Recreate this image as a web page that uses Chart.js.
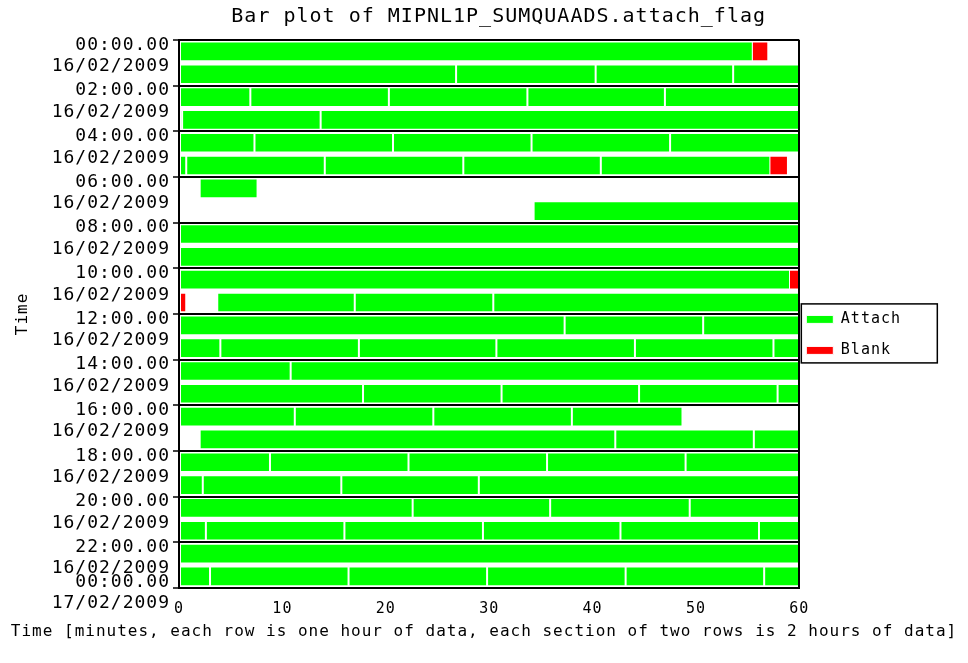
<!DOCTYPE html>
<html>
<head>
<meta charset="utf-8">
<title>Bar plot of MIPNL1P_SUMQUAADS.attach_flag</title>
<script src="https://cdn.jsdelivr.net/npm/chart.js@4.4.1/dist/chart.umd.min.js"></script>
<style>
  html, body { margin: 0; padding: 0; background: #fff; }
  canvas { display: block; }
</style>
</head>
<body>
<canvas id="chart" width="968" height="663"></canvas>
<script>
// one row per hour (00 .. 23); each list holds the edges (minutes) of the Attach sections in that row
const attachCuts = [
  [0, 55.5],
  [0, 26.8, 40.3, 53.6, 60],
  [0, 6.9, 20.3, 33.7, 47.0, 60],
  [0, 0.3, 13.7, 60],
  [0, 7.3, 20.7, 34.1, 47.5, 60],
  [0, 0.7, 14.1, 27.5, 40.8, 57.2],
  [2.0, 7.6],
  [34.3, 60],
  [0, 60],
  [0, 60],
  [0, 59.1],
  [3.7, 17.0, 30.4, 60],
  [0, 37.3, 50.7, 60],
  [0, 4.0, 17.4, 30.7, 44.1, 57.5, 60],
  [0, 10.8, 60],
  [0, 17.8, 31.2, 44.5, 57.9, 60],
  [0, 11.2, 24.6, 38.0, 48.7],
  [2.0, 42.2, 55.6, 60],
  [0, 8.8, 22.2, 35.6, 49.0, 60],
  [0, 2.3, 15.7, 29.0, 60],
  [0, 22.6, 35.9, 49.4, 60],
  [0, 2.6, 16.0, 29.4, 42.7, 56.1, 60],
  [0, 60],
  [0, 3.0, 16.4, 29.8, 43.2, 56.6, 60]
];

// [row, start minute, end minute]
const blankSpans = [
  [0, 55.4, 57.0],
  [5, 57.1, 58.9],
  [10, 59.0, 60],
  [11, 0, 0.7]
];

const sectionTimes = ['00:00.00', '02:00.00', '04:00.00', '06:00.00', '08:00.00', '10:00.00', '12:00.00',
  '14:00.00', '16:00.00', '18:00.00', '20:00.00', '22:00.00', '00:00.00'];
const sectionDates = ['16/02/2009', '16/02/2009', '16/02/2009', '16/02/2009', '16/02/2009', '16/02/2009', '16/02/2009',
  '16/02/2009', '16/02/2009', '16/02/2009', '16/02/2009', '16/02/2009', '17/02/2009'];

const plotTitle = 'Bar plot of MIPNL1P_SUMQUAADS.attach_flag';
const xAxisTitle = 'Time [minutes, each row is one hour of data, each section of two rows is 2 hours of data]';

const attachBars = [];
attachCuts.forEach((cuts, row) => {
  for (let i = 0; i < cuts.length - 1; i++) {
    attachBars.push({ y: row + 0.5, x: [cuts[i], cuts[i + 1]] });
  }
});
const blankBars = blankSpans.map(s => ({ y: s[0] + 0.5, x: [s[1], s[2]] }));

// a little extra room between letters, like the plotting font of the original
const spacing = {
  id: 'spacing',
  beforeUpdate(chart) { chart.ctx.letterSpacing = '1px'; },
  beforeDraw(chart) { chart.ctx.letterSpacing = '1px'; }
};

// let the long x caption use the whole width, nudge the main title and the legend
const titleBoxes = {
  id: 'titleBoxes',
  afterLayout(chart) {
    chart.boxes.forEach(b => {
      if (!b.options) return;
      if (b.options.text === xAxisTitle) {
        b.left = 6; b.right = 962; b.width = 956;
      } else if (b.options.text === plotTitle) {
        b.left = chart.chartArea.left + 19; b.width = b.right - b.left;
      }
    });
    if (chart.legend) {
      chart.legend.left -= 9;
      chart.legend.right -= 9;
    }
  }
};

// frame around the legend entries
const legendFrame = {
  id: 'legendFrame',
  afterDraw(chart) {
    const boxes = chart.legend && chart.legend.legendHitBoxes;
    if (!boxes || !boxes.length) return;
    const left = chart.chartArea.right + 2;
    const top = Math.min(...boxes.map(b => b.top)) - 8;
    const bottom = Math.max(...boxes.map(b => b.top + b.height)) + 5;
    const ctx = chart.ctx;
    ctx.save();
    ctx.strokeStyle = '#000';
    ctx.lineWidth = 1.5;
    ctx.strokeRect(left, top, 136, bottom - top);
    ctx.restore();
  }
};

const barStyle = {
  borderColor: '#ffffff',
  borderWidth: 1,
  borderSkipped: false,
  grouped: false,
  categoryPercentage: 1,
  barPercentage: 0.86
};

const mono = 'DejaVu Sans Mono';

new Chart(document.getElementById('chart'), {
  type: 'bar',
  data: {
    datasets: [
      Object.assign({ label: 'Attach', data: attachBars, backgroundColor: '#00ff00' }, barStyle),
      Object.assign({ label: 'Blank', data: blankBars, backgroundColor: '#ff0000' }, barStyle)
    ]
  },
  options: {
    indexAxis: 'y',
    responsive: false,
    animation: false,
    devicePixelRatio: 1,
    layout: { padding: { left: 4, right: 48, top: 4, bottom: 10 } },
    font: { family: mono },
    plugins: {
      title: {
        display: true,
        fullSize: false,
        text: plotTitle,
        color: '#000',
        font: { family: mono, size: 20, weight: 'normal' },
        padding: { top: 1, bottom: 11 }
      },
      subtitle: {
        display: true,
        position: 'bottom',
        fullSize: true,
        text: xAxisTitle,
        color: '#000',
        font: { family: mono, size: 16, weight: 'normal' },
        padding: { top: -8, bottom: 12 }
      },
      legend: {
        position: 'right',
        fullSize: false,
        title: { display: true, text: '', padding: 12, font: { size: 15 } },
        labels: {
          color: '#000',
          boxWidth: 27,
          boxHeight: 8,
          padding: 16,
          font: { family: mono, size: 15 }
        }
      },
      tooltip: { enabled: false }
    },
    scales: {
      x: {
        type: 'linear',
        min: 0,
        max: 60,
        ticks: { stepSize: 10, padding: 12, maxRotation: 0, color: '#000', font: { family: mono, size: 15 } },
        grid: {
          color: c => (c.tick && c.tick.value === 60 ? '#000' : 'rgba(0,0,0,0)'),
          lineWidth: 2,
          drawTicks: false,
          z: 1
        },
        border: { color: '#000', width: 2, z: 1 }
      },
      y: {
        type: 'linear',
        min: 0,
        max: 24,
        reverse: true,
        offset: false,
        afterFit(scale) { scale.width = 175; },
        ticks: {
          stepSize: 2,
          autoSkip: false,
          padding: 3,
          labelOffset: 5,
          color: '#000',
          font: { family: mono, size: 18, lineHeight: 1.2 },
          callback: v => {
            const i = Math.round(v / 2);
            if (i === sectionTimes.length - 1) return [sectionTimes[i], sectionDates[i]];
            return ['', sectionTimes[i], sectionDates[i]];
          }
        },
        grid: { offset: false, color: '#000', lineWidth: 2, tickLength: 6, tickColor: '#000', tickWidth: 1.5, z: 1 },
        border: { color: '#000', width: 2, z: 1 },
        title: { display: true, text: 'Time', color: '#000', font: { family: mono, size: 16 }, padding: { top: 9, bottom: 0 } }
      }
    }
  },
  plugins: [spacing, titleBoxes, legendFrame]
});
</script>
</body>
</html>
